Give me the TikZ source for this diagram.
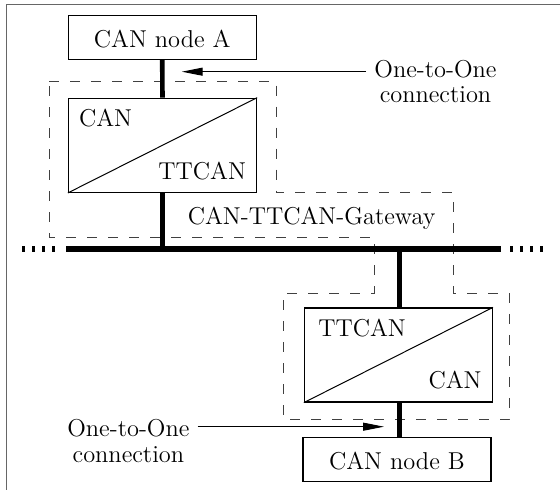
\documentclass[tikz,border=0pt]{standalone}
\usetikzlibrary{arrows.meta}
\begin{document}
\begin{tikzpicture}[x=0.5pt,y=-0.5pt,
  font=\fontsize{12.2}{12.8}\selectfont,
  canbox/.style={draw, line width=0.6pt, minimum width=94pt, inner sep=0pt},
  smallbox/.style={canbox, minimum height=22pt, text height=10.5pt, text depth=0pt},
  gwbox/.style={canbox, minimum height=47pt},
  lbl/.style={inner sep=0pt},
  vline/.style={line width=2.3pt},
  busline/.style={line width=3pt},
  busdots/.style={line width=3pt, dash pattern=on 1.5pt off 3.5pt},
  gwline/.style={line width=0.5pt, black!75, dash pattern=on 5pt off 5.5pt},
  arr/.style={line width=0.5pt, -{Triangle[length=10.5pt,width=4pt]}},
  frameline/.style={line width=0.8pt, black!60}]
\useasboundingbox (0,0) rectangle (560,490);
% partial outer frame
\draw[frameline] (6.5,490) -- (6.5,4.5) -- (560,4.5);
% gateway outline
\draw[gwline] (49,81.7) -- (276,81.7) -- (276,192.3) -- (453.5,192.3) -- (453.5,293.3)
  -- (509.8,293.3) -- (509.8,419) -- (283,419) -- (283,293.3) -- (374,293.3)
  -- (374,237.3) -- (49,237.3) -- cycle;
% nodes
\node[smallbox] (nodeA) at (162.2,37.2) {CAN node A};
\node[gwbox] (box1) at (162.5,145.3) {};
\node[gwbox] (box2) at (398.4,355) {};
\node[smallbox] (nodeB) at (396.9,459.2) {CAN node B};
\draw[line width=0.5pt] (box1.south west) -- (box1.north east);
\draw[line width=0.5pt] (box2.south west) -- (box2.north east);
\node[lbl, anchor=base west] (c1) at (78.6,126.7) {CAN};
\node[lbl, anchor=base east] (t1) at (246.4,180) {TTCAN};
\node[lbl, anchor=base west] (t2) at (317.9,336.7) {TTCAN};
\node[lbl, anchor=base east] (c2) at (482,388.3) {CAN};
\node[lbl, anchor=base] (gw) at (311.6,225) {CAN-TTCAN-Gateway};
% bus
\coordinate (busL) at (66,249.3);
\coordinate (busR) at (500.7,249.3);
\coordinate (tap2) at (399.5,249.3);
\coordinate (dotL1) at (22,249.3);
\coordinate (dotL2) at (55,249.3);
\coordinate (dotR1) at (510,249.3);
\coordinate (dotR2) at (543,249.3);
\draw[busline] (busL) -- (busR);
\draw[busdots] (dotL1) -- (dotL2);
\draw[busdots] (dotR1) -- (dotR2);
% vertical connections
\draw[vline] (nodeA.south) -- (box1.north);
\draw[vline] (box1.south) -- (box1.south |- busL);
\draw[vline] (tap2) -- (tap2 |- box2.north);
\draw[vline] (box2.south -| tap2) -- (nodeB.north -| tap2);
% one-to-one labels and arrows
\node[lbl, align=center, anchor=north] (oto1) at (435.5,59.6) {One-to-One\\connection};
\node[lbl, align=center, anchor=north] (oto2) at (128.4,419.1) {One-to-One\\connection};
\coordinate (a1s) at (366,71.7);
\coordinate (a1e) at (181.7,71.7);
\coordinate (a2s) at (197.5,426.7);
\coordinate (a2e) at (384,426.7);
\draw[arr] (a1s) -- (a1e);
\draw[arr] (a2s) -- (a2e);
\end{tikzpicture}
\end{document}
